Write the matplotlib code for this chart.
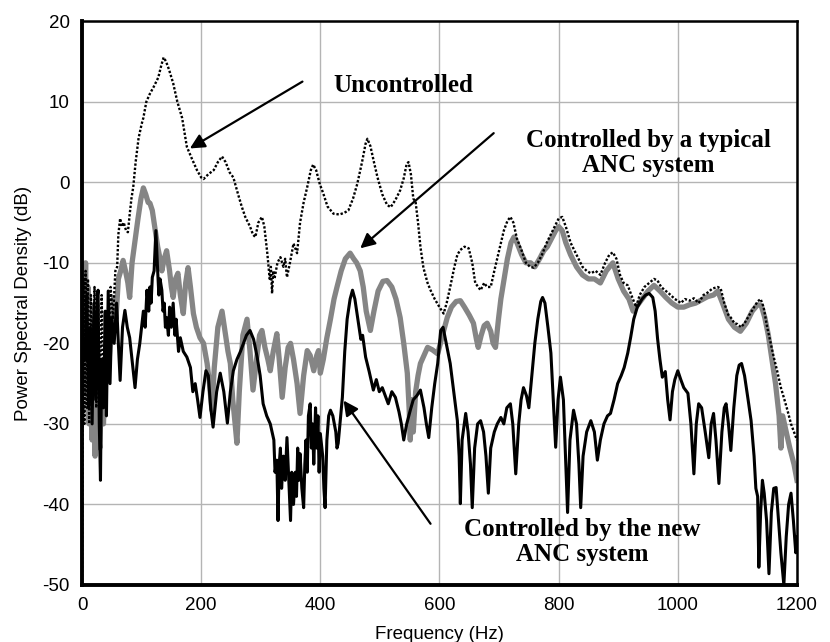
import matplotlib
matplotlib.use("Agg")
import matplotlib.pyplot as plt

plt.rcParams["axes.unicode_minus"] = False

# ---------------- data: (frequency Hz, PSD dB) ----------------
uncontrolled = [
    (0, -50), (2, -12), (4, -30), (6, -11), (8, -28), (10, -12), (12, -30), (15, -14), (18, -26), (21, -13),
    (24, -28), (27, -15), (30, -25), (33, -14), (36, -27), (40, -16), (44, -22), (48, -13), (52, -17), (56, -11),
    (59, -10.5), (61, -6.5), (64, -4.5), (67, -5.5), (70, -5), (74, -6), (77, -6.2), (80, -4), (83, -2), (86, -0.6),
    (90, 2.5), (95, 5.5), (100, 7.2), (103, 8), (108, 10), (114, 11), (120, 11.8), (128, 13), (133, 14.5),
    (137, 15.5), (141, 15), (146, 14), (153, 12.3), (160, 10), (168, 8), (176, 4.4), (184, 3), (193, 1.5),
    (200, 0.6), (204, 0.4), (212, 1), (221, 1.5), (228, 2.5), (235, 3.2), (241, 2.5), (248, 1.2), (254, 0.6),
    (262, -1.5), (268, -3), (274, -4.3), (282, -5.5), (287, -6.5), (291, -6.8), (296, -5), (302, -4.3),
    (306, -5.5), (311, -8.8), (315, -12), (317, -10.5), (319, -13.8), (321, -11), (323, -12), (328, -10),
    (333, -9.3), (338, -10.5), (341, -9.5), (344, -11.8), (349, -10), (355, -7.6), (361, -8.8), (366, -5),
    (372, -2.5), (378, -0.6), (384, 1.5), (388, 2.2), (393, 1.5), (399, -0.2), (405, -1.4), (412, -3), (422, -3.9),
    (432, -4), (440, -3.8), (447, -3.5), (455, -2), (462, -0.2), (470, 2.5), (476, 4.8), (479, 5.4), (484, 4.5),
    (490, 2.5), (496, 0.6), (504, -1.5), (512, -2.8), (518, -3.1), (526, -2.2), (534, -1), (540, 0.5), (545, 2.3),
    (548, 2.5), (552, 1), (556, -2), (560, -2.5), (564, -5), (568, -8), (573, -10.6), (580, -12.5), (585, -13.4),
    (592, -14.5), (600, -15.5), (607, -16.3), (612, -15), (618, -13), (625, -10.5), (630, -9), (635, -8.4),
    (642, -8), (649, -8.2), (655, -10), (660, -12.5), (665, -13), (669, -13.4), (675, -12.5), (680, -13),
    (686, -13), (692, -11), (700, -8.5), (708, -6), (714, -4.8), (719, -4.3), (724, -5), (730, -7), (738, -8.5),
    (745, -10), (752, -10.5), (758, -10.6), (765, -10), (772, -9), (780, -7.5), (790, -6), (800, -4.5),
    (806, -4.3), (812, -5.5), (820, -7.5), (830, -9), (840, -10.5), (847, -11), (854, -11.3), (862, -11),
    (870, -11.5), (878, -10), (885, -9), (891, -8.7), (897, -9.5), (903, -11.5), (909, -12.5), (916, -12.8),
    (922, -14), (930, -15.5), (936, -14), (944, -13), (952, -12.5), (960, -12), (966, -12.2), (972, -13),
    (980, -13.5), (988, -14), (995, -14.5), (1000, -14.7), (1005, -15), (1012, -14.5), (1020, -14.7),
    (1027, -14.4), (1035, -15), (1043, -14), (1050, -13.7), (1058, -13.2), (1067, -13), (1072, -13.2),
    (1078, -15), (1085, -16.5), (1089, -16.8), (1095, -17.5), (1100, -17.6), (1106, -18), (1112, -17.5),
    (1120, -16.5), (1128, -15.5), (1134, -14.8), (1139, -14.5), (1144, -15.5), (1150, -18), (1156, -20),
    (1161, -21.7), (1167, -23.5), (1173, -25.5), (1179, -27), (1184, -28.3), (1190, -30), (1195, -31), (1200, -32),
]

typical_anc = [
    (2, -12), (4, -24), (6, -10), (8, -26), (10, -13), (12, -30), (14, -17), (17, -32), (19, -22), (22, -34),
    (24, -25), (27, -31), (30, -33), (33, -24), (36, -30), (41, -20.5), (45, -23), (49, -17), (53, -14.3),
    (57, -17), (61, -12), (65, -11), (69, -9.7), (73, -11), (77, -12.5), (80, -14.3), (84, -10), (89, -7.2),
    (94, -4.5), (99, -2), (103, -0.7), (107, -1.5), (111, -2.5), (114, -2.6), (118, -3.5), (122, -5.5), (127, -8),
    (131, -9.5), (134, -11), (138, -9.5), (142, -8.5), (147, -11), (150, -13), (153, -14.3), (157, -12),
    (161, -11.3), (165, -14), (170, -16.3), (174, -12.5), (178, -10.6), (182, -13), (187, -16.3), (192, -18),
    (198, -19.3), (204, -20), (210, -22.5), (214, -25), (218, -28.3), (222, -23), (228, -18), (235, -16),
    (241, -19), (245, -21), (249, -22.5), (253, -27), (257, -30), (260, -32.4), (264, -26), (270, -19),
    (277, -17), (282, -21), (287, -25.8), (293, -22), (298, -19), (302, -18.4), (307, -20.5), (312, -22),
    (316, -23.4), (321, -21), (327, -18.8), (331, -22), (336, -26.7), (341, -23), (346, -20.5), (350, -20),
    (355, -22), (361, -25), (366, -28.7), (372, -24), (378, -20.9), (383, -21.5), (389, -23.4), (394, -21.5),
    (397, -20.9), (400, -23.7), (405, -22), (411, -19.3), (417, -17), (423, -14.5), (428, -13), (435, -11),
    (442, -9.5), (450, -8.8), (456, -9.5), (461, -10), (467, -11), (472, -13), (477, -16), (484, -18.4),
    (490, -16), (497, -13.5), (505, -12.3), (512, -12.2), (520, -13), (527, -14.5), (534, -16.8), (540, -20),
    (546, -23.7), (549, -28), (551, -32), (553, -27), (556, -31), (560, -26), (564, -24), (568, -22.5),
    (574, -21.5), (580, -20.5), (588, -20.8), (597, -21.3), (605, -19), (613, -16.8), (620, -15.5), (628, -14.8),
    (635, -14.7), (642, -15.5), (650, -16.5), (657, -17.5), (662, -19.5), (665, -20.5), (670, -19), (675, -17.8),
    (680, -17.5), (686, -18.5), (690, -20), (694, -20.5), (699, -17), (703, -14.5), (708, -12.2), (714, -9.5),
    (720, -7.5), (725, -6.8), (730, -7.5), (738, -9), (745, -10), (753, -10), (760, -10.5), (768, -9.5),
    (775, -8.5), (781, -8), (788, -7), (795, -6), (800, -5.5), (806, -6), (812, -7.5), (820, -9), (830, -10.5),
    (840, -11.5), (850, -12), (860, -12), (870, -12.5), (880, -11), (891, -10), (900, -12), (909, -13.5),
    (918, -14.5), (925, -16), (930, -15.5), (940, -14.5), (950, -13.5), (960, -12.8), (970, -13.5), (980, -14.3),
    (990, -15), (1000, -15.5), (1010, -15.5), (1020, -15.2), (1030, -15), (1040, -14.6), (1050, -14.2),
    (1060, -14), (1067, -13.5), (1075, -15), (1085, -17), (1095, -18), (1105, -18.5), (1115, -17.5), (1125, -16),
    (1134, -15.2), (1140, -15.3), (1146, -16.8), (1152, -19), (1158, -22), (1164, -25), (1170, -29), (1173, -33),
    (1176, -29), (1182, -31), (1188, -33), (1195, -35), (1200, -37),
]

new_anc = [
    (5, -22), (8, -14), (11, -28), (14, -18), (17, -30), (20, -15), (23, -27), (26, -14), (27, -13.4), (29, -30),
    (31, -37), (33, -22), (36, -28), (39, -16), (41, -29), (44, -13.5), (47, -25), (50, -16.8), (54, -20),
    (58, -15), (61, -20), (64, -24.6), (68, -18), (72, -15.9), (76, -18), (80, -19.3), (84, -22), (89, -25.5),
    (93, -22), (97, -20), (103, -16), (106, -18), (109, -13.4), (112, -16), (114, -13), (116, -15), (118, -11.8),
    (121, -11), (124, -6), (127, -11), (129, -14), (131, -12), (134, -13.4), (136, -16), (138, -15), (140, -18),
    (142, -16.8), (145, -19), (147, -15.5), (150, -18), (153, -15), (156, -19), (158, -17), (162, -21),
    (165, -19.3), (170, -21), (176, -21.7), (182, -23), (186, -26), (190, -25), (194, -27), (198, -29.2),
    (203, -26), (208, -23.4), (212, -24), (216, -28), (220, -30.4), (226, -26), (232, -23.7), (238, -26),
    (244, -29.9), (249, -26), (254, -23.4), (260, -22), (266, -21), (271, -20), (276, -19), (282, -18.4),
    (288, -19.5), (294, -21.7), (299, -24), (304, -27.5), (310, -29), (316, -30), (322, -32), (324, -36),
    (327, -34.5), (329, -42), (331, -35), (333, -33), (335, -38), (338, -34), (341, -37), (344, -31.7),
    (347, -37), (350, -42), (352, -36), (355, -40), (358, -36), (360, -39), (362, -33), (364, -37), (366, -33.7),
    (369, -38), (372, -40.4), (374, -35), (376, -32), (378, -36), (380, -29), (383, -27.5), (385, -33),
    (387, -30), (389, -35), (392, -28), (394, -33), (396, -29), (398, -36), (400, -31.2), (404, -34), (406, -38),
    (408, -40.4), (411, -32), (414, -29), (417, -28.3), (421, -29), (426, -31), (428, -33), (430, -32.4),
    (433, -30), (437, -26.7), (441, -21), (445, -17), (450, -14.5), (454, -13.4), (458, -14.5), (463, -17),
    (468, -19.5), (471, -19), (476, -21.7), (482, -23.5), (489, -25.8), (494, -24.5), (499, -26), (504, -25.5),
    (509, -26.5), (514, -27.5), (520, -26), (526, -26.7), (532, -28.5), (536, -30), (540, -32), (545, -30),
    (551, -28.3), (556, -27), (562, -26.5), (568, -25.8), (574, -28), (578, -30), (582, -31.7), (587, -28),
    (592, -25), (597, -22.5), (602, -18.4), (606, -18), (610, -19.5), (614, -21), (618, -22.5), (624, -26),
    (630, -29.6), (633, -34), (635, -39.9), (638, -32), (644, -28.7), (648, -31), (652, -35), (655, -40.4),
    (659, -33), (664, -30), (669, -29.6), (674, -31), (678, -34), (682, -38.6), (686, -33), (692, -31), (697, -30),
    (703, -29.2), (708, -30), (713, -28), (719, -27.5), (723, -30), (728, -36.2), (733, -30), (737, -27),
    (741, -25.5), (746, -26.5), (750, -28), (755, -24), (760, -20), (765, -17), (770, -14.8), (773, -14.3),
    (777, -15), (782, -18), (787, -21.2), (791, -27), (795, -32.9), (799, -27), (803, -24.2), (808, -27),
    (812, -35), (815, -41), (819, -32), (825, -28.3), (830, -30), (834, -35), (837, -40.4), (841, -34), (847, -31),
    (854, -29.6), (860, -31), (865, -34.5), (870, -32), (876, -30), (882, -29), (887, -28.7), (893, -27),
    (899, -25), (905, -24), (910, -23), (916, -21.2), (921, -19.2), (926, -17), (932, -15.5), (940, -14.5),
    (946, -14), (952, -13.8), (958, -14.3), (962, -16), (966, -19.4), (970, -22), (974, -24.2), (979, -23.5),
    (983, -27), (987, -29.5), (991, -26), (995, -24.5), (1000, -23.4), (1005, -24.5), (1010, -25.5),
    (1017, -26.2), (1022, -30), (1027, -36.2), (1031, -30), (1035, -27.5), (1040, -28), (1046, -31), (1052, -34.2),
    (1056, -30), (1060, -28.7), (1064, -32), (1069, -37.4), (1074, -31), (1078, -28), (1081, -27.5), (1085, -30),
    (1089, -33.3), (1094, -28), (1099, -24), (1103, -22.7), (1107, -22.5), (1112, -24), (1118, -27), (1123, -29.6),
    (1128, -34), (1131, -38), (1134, -39), (1136, -47.8), (1139, -41), (1142, -37), (1145, -38.6), (1149, -42),
    (1153, -48.6), (1157, -41), (1161, -38), (1165, -37.9), (1169, -42), (1173, -46), (1178, -50), (1182, -44),
    (1186, -40), (1190, -38.6), (1194, -42), (1198, -46), (1200, -44),
]

x_ticks = [0, 200, 400, 600, 800, 1000, 1200]
y_ticks = [-50, -40, -30, -20, -10, 0, 10, 20]

lbl_unc = "Uncontrolled"
lbl_typ = "Controlled by a typical\nANC system"
lbl_new = "Controlled by the new\nANC system"

# ---------------- figure ----------------
fig = plt.figure(figsize=(8.3, 6.42), dpi=100)
ax = fig.add_axes([0.0988, 0.0888, 0.8614, 0.8782])


def unzip(pts):
    return [p[0] for p in pts], [p[1] for p in pts]


f, v = unzip(typical_anc)
ax.plot(f, v, color="#858585", lw=3.8, zorder=2)
f, v = unzip(new_anc)
ax.plot(f, v, color="black", lw=2.2, zorder=3)
f, v = unzip(uncontrolled)
ax.plot(f, v, color="black", lw=1.7, linestyle=(0, (1, 0.8)), zorder=4)

ax.set_xlim(0, 1200)
ax.set_ylim(-50, 20)
ax.set_xticks(x_ticks)
ax.set_yticks(y_ticks)
ax.grid(True, color="#b4b4b4", lw=1.0, zorder=0)
ax.set_axisbelow(True)
ax.tick_params(length=0, labelsize=13.5, pad=9)
for lab in ax.get_xticklabels() + ax.get_yticklabels():
    lab.set_fontfamily("Liberation Sans")
for side, w in [("left", 2.8), ("bottom", 2.8), ("top", 1.8), ("right", 1.8)]:
    ax.spines[side].set_linewidth(w)
    ax.spines[side].set_color("black")

ax.set_xlabel("Frequency (Hz)", fontsize=13.5, family="Liberation Sans", labelpad=8)
ax.set_ylabel("Power Spectral Density (dB)", fontsize=13.5, family="Liberation Sans", labelpad=7)

txt = dict(fontsize=18, fontweight="bold", family="Liberation Serif", ha="center", va="center",
           linespacing=1.12, zorder=6)
arr = dict(arrowstyle="-|>", color="black", lw=1.6, mutation_scale=22, shrinkA=0, shrinkB=0)

ax.text(540, 12.0, lbl_unc, **txt)
ax.annotate("", xy=(181, 4.2), xytext=(370, 12.5), arrowprops=arr, zorder=6)

ax.text(950, 3.6, lbl_typ, **txt)
ax.annotate("", xy=(467, -8.2), xytext=(691, 6.1), arrowprops=arr, zorder=6)

ax.text(840, -44.7, lbl_new, **txt)
ax.annotate("", xy=(439, -27.1), xytext=(585, -42.4), arrowprops=arr, zorder=6)

fig.savefig("out.png", dpi=100)
